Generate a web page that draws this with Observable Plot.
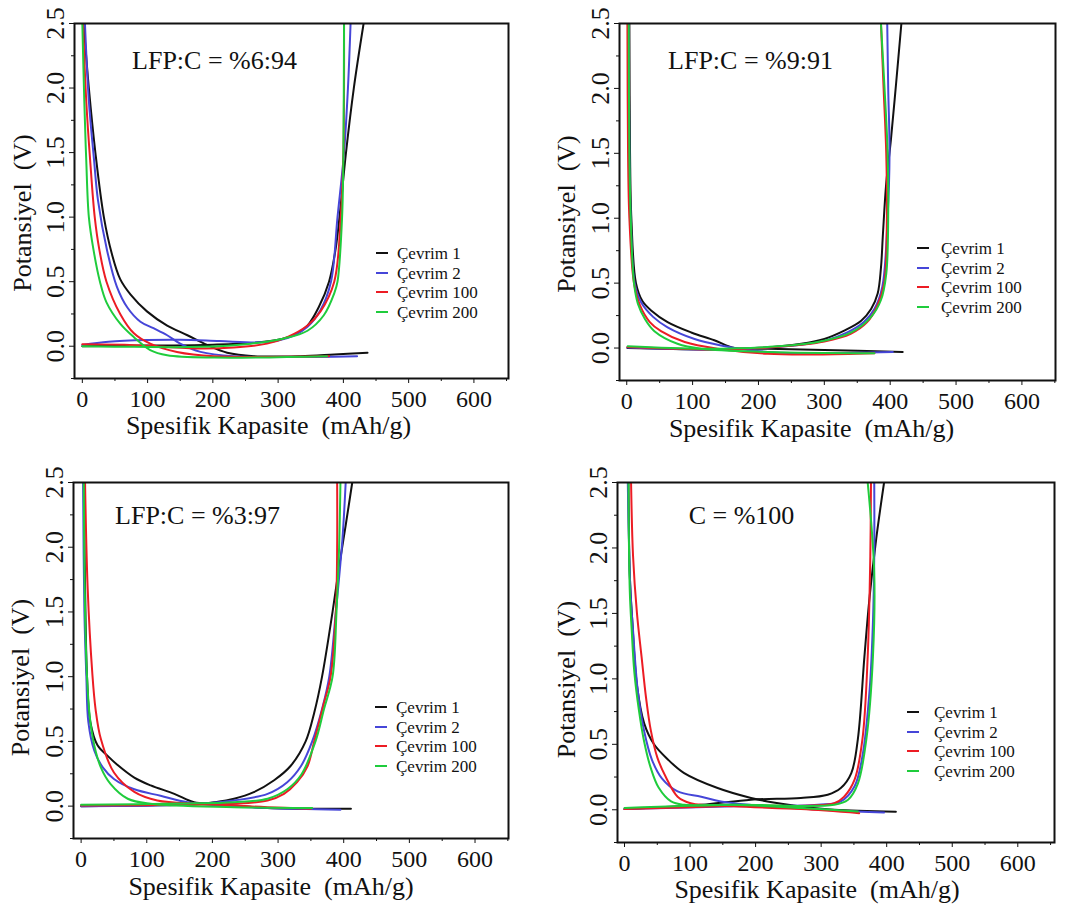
<!DOCTYPE html>
<html>
<head>
<meta charset="utf-8">
<script src="https://cdn.jsdelivr.net/npm/d3@7"></script>
<script src="https://cdn.jsdelivr.net/npm/@observablehq/plot@0.6"></script>
<style>
  html, body { margin: 0; padding: 0; background: #fff; }
  #page { position: relative; width: 1068px; height: 907px; overflow: hidden; font-family: "Liberation Serif", "Times New Roman", serif; }
  .panel { position: absolute; }
  .legend { position: absolute; font-size: 17px; color: #111; }
  .legend .sw { position: absolute; height: 2px; }
  .legend .lbl { position: absolute; transform: translateY(-50%); white-space: nowrap; line-height: 1; }
</style>
</head>
<body>
<div id="page"></div>
<script>
// ---------- data ----------
const seriesNames = ["Çevrim 1", "Çevrim 2", "Çevrim 100", "Çevrim 200"];
const seriesColors = ["#111111", "#4646d8", "#ec1c24", "#1fcc3c"];
const panelTitles = ["LFP:C = %6:94", "LFP:C = %9:91", "LFP:C = %3:97", "C = %100"];
const xLabel = "Spesifik Kapasite  (mAh/g)";
const yLabel = "Potansiyel  (V)";
const xMajorTicks = [0, 100, 200, 300, 400, 500, 600];
const xMinorTicks = [50, 150, 250, 350, 450, 550, 650];
const yMajorTicks = [0, 0.5, 1.0, 1.5, 2.0, 2.5];
const yMinorTicks = [-0.25, 0.25, 0.75, 1.25, 1.75, 2.25];

// Panel 1: LFP:C = %6:94   [capacity mAh/g, potential V]
const p1Discharge = [
  [[2,2.5],[10,2.0],[20,1.5],[33,1.0],[45,0.72],[58,0.52],[74,0.4],[99,0.27],[130,0.16],[161,0.085],[191,0.01],[222,-0.05],[263,-0.077],[334,-0.077],[386,-0.064],[437,-0.05]],
  [[4,2.5],[10,1.9],[18,1.44],[24,1.13],[38,0.74],[53,0.46],[69,0.30],[89,0.19],[109,0.14],[130,0.085],[150,0.02],[181,-0.044],[232,-0.077],[421,-0.077]],
  [[1,2.5],[6,1.9],[12,1.44],[19,1.0],[26,0.75],[37,0.5],[58,0.25],[79,0.1],[104,0.02],[145,-0.044],[202,-0.077],[378,-0.077]],
  [[0,2.5],[3,1.9],[6,1.44],[10,1.0],[17,0.75],[27,0.5],[37,0.34],[58,0.175],[79,0.07],[104,-0.03],[130,-0.07],[202,-0.088],[375,-0.077]]
];
const p1Charge = [
  [[0,0],[100,0.005],[200,0.012],[260,0.025],[300,0.05],[325,0.09],[345,0.16],[362,0.3],[378,0.5],[388,0.75],[394,1.0],[404,1.5],[416,2.0],[431,2.5]],
  [[0,0.01],[40,0.035],[100,0.048],[150,0.05],[210,0.04],[270,0.03],[300,0.045],[325,0.085],[345,0.15],[365,0.28],[381,0.5],[391,1.0],[401,1.5],[407,2.0],[411,2.5]],
  [[0,0.015],[80,0.008],[180,-0.018],[232,-0.01],[283,0.02],[314,0.07],[345,0.16],[365,0.27],[386,0.5],[396,1.0],[400,1.5],[401,2.0],[401,2.5]],
  [[0,0],[80,-0.005],[180,-0.005],[258,0.02],[309,0.06],[345,0.12],[370,0.24],[386,0.41],[391,0.5],[398,1.0],[400,1.5],[401,2.5]]
];

// Panel 2: LFP:C = %9:91
const p2Discharge = [
  [[4,2.5],[5,1.5],[7,1.0],[14,0.5],[24,0.36],[37,0.29],[62,0.2],[98,0.12],[133,0.06],[164,0.0],[214,-0.005],[300,-0.015],[419,-0.03]],
  [[3,2.5],[4,1.5],[6,1.0],[12,0.5],[22,0.35],[40,0.24],[62,0.16],[103,0.07],[143,0.02],[189,-0.018],[265,-0.04],[404,-0.03]],
  [[1,2.5],[2,1.5],[4,1.0],[11,0.5],[20,0.33],[35,0.2],[52,0.13],[88,0.046],[138,-0.005],[214,-0.044],[290,-0.049],[376,-0.04]],
  [[3,2.5],[4,1.5],[6,1.0],[11,0.5],[17,0.34],[28,0.22],[42,0.13],[77,0.033],[113,-0.005],[214,-0.03],[376,-0.04]]
];
const p2Charge = [
  [[1,0],[164,-0.008],[265,0.033],[300,0.07],[331,0.136],[356,0.21],[371,0.3],[381,0.42],[386,0.62],[389,0.88],[394,1.27],[401,1.6],[409,2.04],[417,2.5]],
  [[1,0.005],[150,-0.01],[265,0.025],[300,0.055],[335,0.12],[360,0.2],[376,0.3],[388,0.47],[396,1.0],[399,1.5],[397,2.0],[395.5,2.5]],
  [[1,0.008],[150,-0.01],[265,0.025],[300,0.05],[340,0.11],[365,0.2],[380,0.32],[391,0.5],[395,1.0],[394,1.5],[390,2.0],[386,2.5]],
  [[1.5,0.013],[113,-0.005],[214,0.008],[290,0.046],[341,0.12],[371,0.24],[386,0.37],[394,0.57],[397,1.01],[396,1.52],[391,2.04],[386,2.5]]
];

// Panel 3: LFP:C = %3:97
const p3Discharge = [
  [[4,2.5],[6,1.7],[9,1.0],[14,0.65],[25,0.47],[40,0.39],[55,0.32],[81,0.22],[106,0.16],[142,0.095],[172,0.03],[203,0.018],[284,-0.015],[411,-0.02]],
  [[3,2.5],[5,1.5],[8,1.0],[11,0.65],[20,0.43],[33,0.3],[50,0.21],[81,0.13],[121,0.08],[162,0.03],[208,0.005],[284,-0.015],[395,-0.028]],
  [[6,2.5],[10,1.68],[17,1.03],[22,0.75],[30,0.52],[50,0.26],[81,0.11],[116,0.044],[182,0.018],[284,-0.008],[350,-0.02]],
  [[4,2.5],[6,1.5],[9,1.0],[13,0.7],[20,0.47],[30,0.3],[45,0.17],[71,0.057],[106,0.018],[233,-0.008],[352,-0.015]]
];
const p3Charge = [
  [[0,0],[100,0.005],[175,0.015],[203,0.03],[233,0.057],[263,0.108],[294,0.2],[319,0.31],[342,0.5],[355,0.72],[367,1.0],[383,1.5],[393,1.85],[403,2.17],[413,2.5]],
  [[0,0],[150,0.01],[233,0.044],[284,0.095],[314,0.185],[335,0.31],[352,0.5],[367,0.75],[378,1.0],[388,1.5],[398,2.06],[403,2.5]],
  [[0,0.005],[150,0.01],[233,0.018],[284,0.044],[309,0.095],[329,0.185],[345,0.31],[355,0.5],[369,0.78],[380,1.0],[388,1.5],[390,2.0],[390,2.5]],
  [[0,0.01],[150,0.02],[233,0.03],[284,0.057],[314,0.13],[335,0.24],[357,0.5],[370,0.75],[383,1.0],[389,1.5],[393,2.0],[395,2.5]]
];

// Panel 4: C = %100
const p4Discharge = [
  [[6,2.5],[8,1.8],[12,1.43],[19,0.95],[30,0.66],[45,0.5],[65,0.39],[91,0.28],[142,0.166],[193,0.09],[218,0.064],[269,0.026],[320,0],[414,-0.015]],
  [[5,2.5],[9,1.68],[13,1.37],[20,0.92],[30,0.6],[42,0.38],[57,0.24],[81,0.14],[117,0.1],[147,0.064],[218,0.026],[320,-0.005],[396,-0.02]],
  [[10,2.5],[13,1.94],[19,1.5],[26,1.17],[33,0.85],[40,0.61],[50,0.4],[63,0.25],[81,0.1],[101,0.05],[167,0.026],[269,0.005],[358,-0.026]],
  [[6,2.5],[8,1.68],[11,1.37],[15,1.05],[22,0.76],[30,0.52],[40,0.32],[52,0.17],[71,0.064],[91,0.038],[167,0.038],[269,0.013],[356,-0.013]]
];
const p4Charge = [
  [[0,0.005],[117,0.038],[193,0.077],[269,0.09],[310,0.115],[330,0.166],[346,0.28],[356,0.54],[366,1.17],[374,1.63],[384,2.07],[396,2.5]],
  [[0,0.005],[167,0.026],[295,0.038],[330,0.064],[351,0.18],[363,0.41],[374,0.92],[379,1.43],[381,1.94],[381,2.5]],
  [[0,0.005],[167,0.03],[320,0.05],[335,0.1],[351,0.23],[363,0.54],[371,1.17],[375,1.94],[376,2.5]],
  [[0,0.013],[167,0.038],[320,0.038],[341,0.077],[356,0.2],[369,0.54],[379,1.17],[381,1.81],[371,2.5]]
];

// ---------- layout ----------
const panels = [
  {discharge: p1Discharge, charge: p1Charge, title: panelTitles[0], left: 0, top: 0, width: 534, height: 450,
   m: [23, 26, 72, 74], xDomain: [-12, 653], titlePos: [140, 37], yTitle: [-52, 12], xTitle: [-23, 47],
   legend: {x: 376, tx: 397, y: 253}},
  {discharge: p2Discharge, charge: p2Charge, title: panelTitles[1], left: 534, top: 0, width: 534, height: 450,
   m: [23, 13, 70, 85], xDomain: [-11, 651], titlePos: [131, 37], yTitle: [-53, 12], xTitle: [-26, 48],
   legend: {x: 383, tx: 407, y: 248}},
  {discharge: p3Discharge, charge: p3Charge, title: panelTitles[2], left: 0, top: 455, width: 534, height: 452,
   m: [27, 26, 69, 73], xDomain: [-11.6, 651], titlePos: [124, 33], yTitle: [-53, 17], xTitle: [-20, 48],
   legend: {x: 375, tx: 396, y: 252}},
  {discharge: p4Discharge, charge: p4Charge, title: panelTitles[3], left: 534, top: 455, width: 534, height: 452,
   m: [27, 14, 65, 83], xDomain: [-10.7, 656], titlePos: [124, 33], yTitle: [-51, 17], xTitle: [-19, 47],
   legend: {x: 373, tx: 400, y: 257}}
];

const page = document.getElementById("page");
const fontFamily = '"Liberation Serif", "Times New Roman", serif';

for (const p of panels) {
  const rows = [];
  seriesNames.forEach((name, i) => {
    for (const [x, y] of p.discharge[i]) rows.push({series: name, z: name + "-d", x, y});
    for (const [x, y] of p.charge[i]) rows.push({series: name, z: name + "-c", x, y});
  });

  const chart = Plot.plot({
    width: p.width,
    height: p.height,
    marginTop: p.m[0], marginRight: p.m[1], marginBottom: p.m[2], marginLeft: p.m[3],
    style: {fontFamily, background: "transparent", color: "#111"},
    x: {domain: p.xDomain, label: null},
    y: {domain: [-0.25, 2.5], label: null},
    color: {domain: seriesNames, range: seriesColors},
    marks: [
      Plot.line(rows, {x: "x", y: "y", z: "z", stroke: "series", strokeWidth: 2, curve: "catmull-rom", clip: true}),
      Plot.axisX({ticks: xMajorTicks, tickSize: 5, tickPadding: 6, fontSize: 24, label: null, tickFormat: d3.format("d")}),
      Plot.axisX({ticks: xMinorTicks, tickSize: 3, tickFormat: () => "", label: null}),
      Plot.axisY({ticks: yMajorTicks, tickSize: 5, tickPadding: 6, fontSize: 26, tickRotate: -90, label: null, tickFormat: d3.format(".1f")}),
      Plot.axisY({ticks: yMinorTicks, tickSize: 3, tickFormat: () => "", label: null}),
      Plot.frame({stroke: "#111", strokeWidth: 2}),
      Plot.text([p.title], {frameAnchor: "top-left", dx: p.titlePos[0], dy: p.titlePos[1], textAnchor: "middle", lineAnchor: "middle", fontSize: 26, fill: "#111"}),
      Plot.text([xLabel], {frameAnchor: "bottom", dx: p.xTitle[0], dy: p.xTitle[1], textAnchor: "middle", lineAnchor: "middle", fontSize: 26, fill: "#111"}),
      Plot.text([yLabel], {frameAnchor: "left", dx: p.yTitle[0], dy: p.yTitle[1], rotate: -90, textAnchor: "middle", lineAnchor: "middle", fontSize: 26, fill: "#111"})
    ]
  });

  const div = document.createElement("div");
  div.className = "panel";
  div.style.left = p.left + "px";
  div.style.top = p.top + "px";
  div.style.width = p.width + "px";
  div.style.height = p.height + "px";
  div.appendChild(chart);

  const leg = document.createElement("div");
  leg.className = "legend";
  leg.style.left = "0px";
  leg.style.top = "0px";
  seriesNames.forEach((name, i) => {
    const cy = p.legend.y + i * 19.7;
    const sw = document.createElement("div");
    sw.className = "sw";
    sw.style.left = p.legend.x + "px";
    sw.style.width = "12px";
    sw.style.top = (cy - 1) + "px";
    sw.style.background = seriesColors[i];
    const lbl = document.createElement("div");
    lbl.className = "lbl";
    lbl.style.left = p.legend.tx + "px";
    lbl.style.top = cy + "px";
    lbl.textContent = name;
    leg.appendChild(sw);
    leg.appendChild(lbl);
  });
  div.appendChild(leg);
  page.appendChild(div);
}
</script>
</body>
</html>
